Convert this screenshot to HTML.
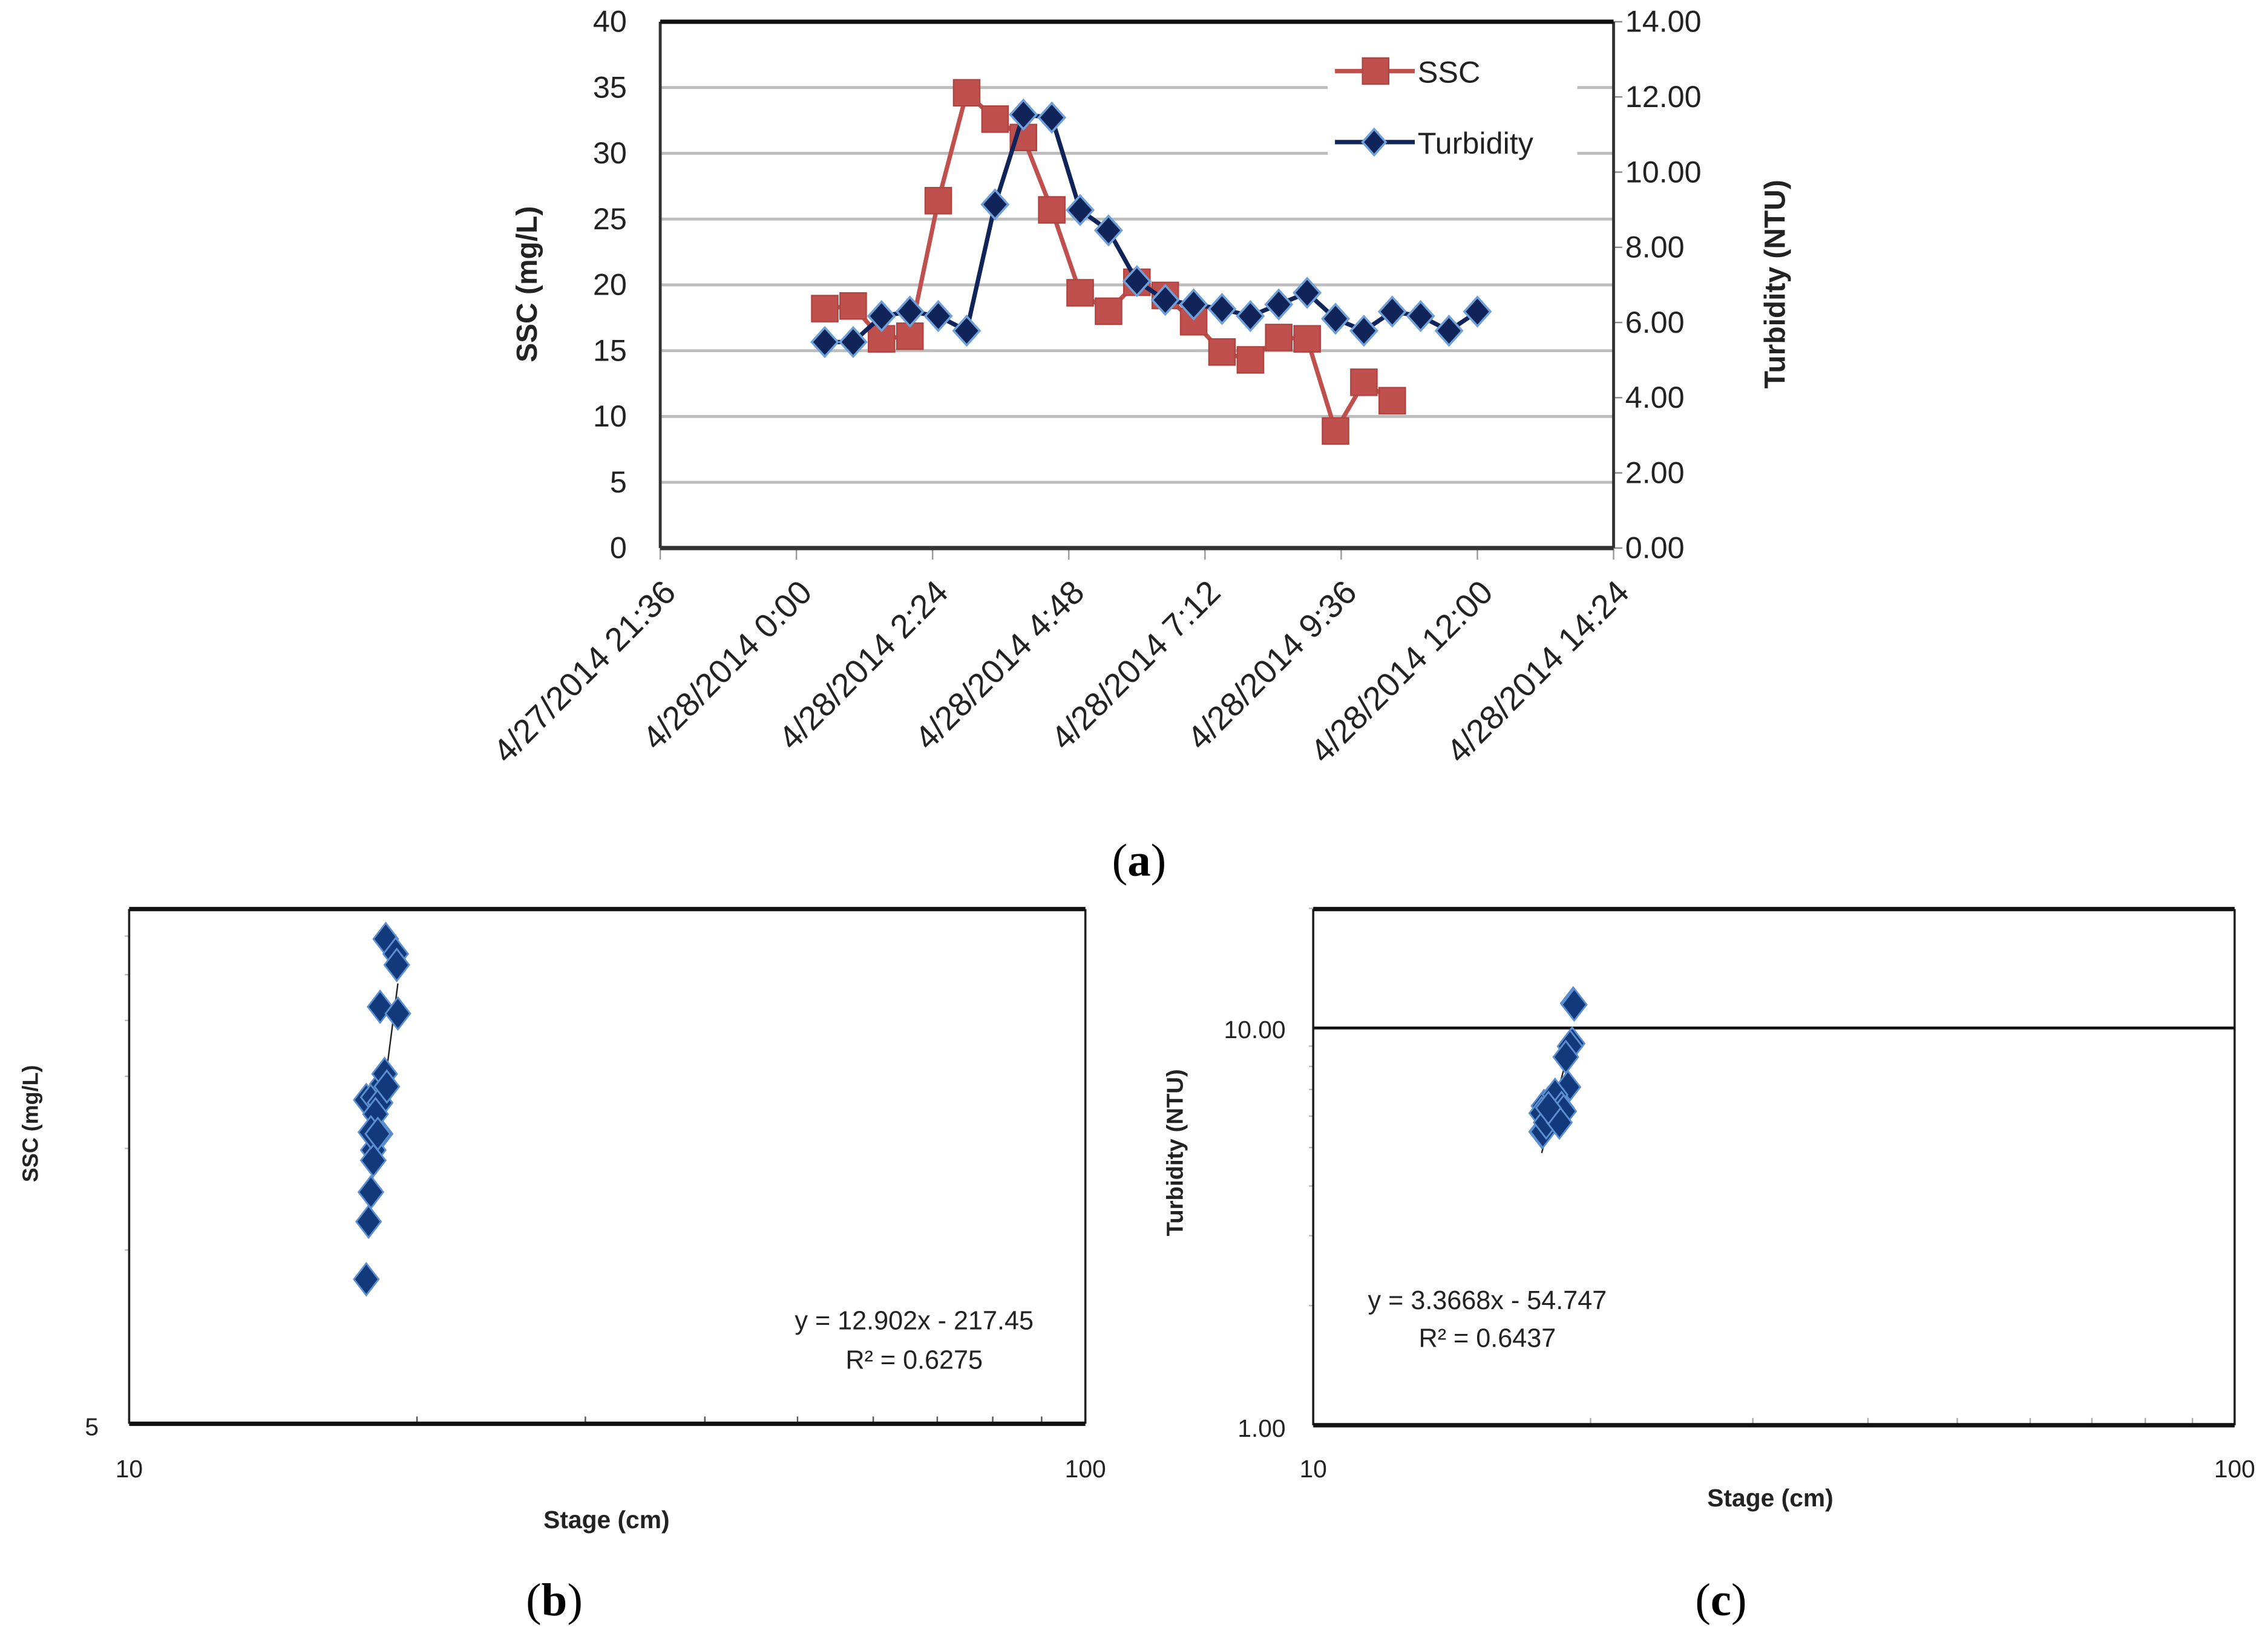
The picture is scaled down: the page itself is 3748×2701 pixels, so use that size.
<!DOCTYPE html>
<html><head><meta charset="utf-8">
<style>
html,body{margin:0;padding:0;background:#fff;}
svg{display:block;}
text{font-family:"Liberation Sans",sans-serif;fill:#222;}
.serif{font-family:"Liberation Serif",serif;fill:#000;}
</style></head>
<body>
<svg id="fig" width="3748" height="2701" viewBox="0 0 1563 1127" preserveAspectRatio="none" xmlns="http://www.w3.org/2000/svg">
<rect width="1563" height="1127" fill="#fff"/>
<g id="ga"></g>
<g id="gb"></g>
<g id="gc"></g>
<text class="serif" x="785" y="604" font-size="32" text-anchor="middle">(<tspan font-weight="bold">a</tspan>)</text>
<text class="serif" x="382" y="1114" font-size="32" text-anchor="middle">(<tspan font-weight="bold">b</tspan>)</text>
<text class="serif" x="1186" y="1114" font-size="32" text-anchor="middle">(<tspan font-weight="bold">c</tspan>)</text>
</svg>
<script>
// ---- data ----
const timeMin = [30,60,90,120,150,180,210,240,270,300,330,360,390,420,450,480,510,540,570,600,630,660,690,720]; // minutes after 4/28 0:00
const sscValues = [18.2,18.4,15.9,16.1,26.4,34.6,32.6,31.2,25.7,19.4,18.0,20.2,19.2,17.2,14.9,14.3,16.0,15.9,8.9,12.6,11.2];
const turbValues = [5.48,5.48,6.17,6.29,6.17,5.78,9.14,11.53,11.45,8.99,8.45,7.1,6.6,6.48,6.36,6.17,6.48,6.79,6.1,5.78,6.29,6.17,5.78,6.29];
const xTickLabels = ["4/27/2014 21:36","4/28/2014 0:00","4/28/2014 2:24","4/28/2014 4:48","4/28/2014 7:12","4/28/2014 9:36","4/28/2014 12:00","4/28/2014 14:24"];
const sscTicks = [0,5,10,15,20,25,30,35,40];
const turbTicks = [0,2,4,6,8,10,12,14];
const stageB = [17.7,18.0,18.3,18.1,18.3,18.55,19.0,19.05,19.1,18.4,18.3,18.5,18.6,18.1,18.0,18.0,17.9,18.2,17.7,17.9,17.8];
const stageC = [17.7,17.75,17.8,18.0,17.9,18.5,19.1,19.15,19.2,19.0,18.8,18.9,18.4,18.0,17.8,17.9,18.2,18.3,17.7,17.9,18.6,18.7,18.5,18.0];
const regB = [12.902,-217.45];
const regC = [3.3668,-54.747];

const NS="http://www.w3.org/2000/svg";
function mk(parent,tag,attrs,txt){const e=document.createElementNS(NS,tag);for(const k in attrs)e.setAttribute(k,attrs[k]);if(txt!==undefined)e.textContent=txt;parent.appendChild(e);return e;}

// ---- chart a ----
const ga=document.getElementById('ga');
const aL=455,aR=1112,aT=15,aB=378;
const xA=m=>aL+(m+144)/1008*(aR-aL);
const ySSC=v=>aB-v/40*(aB-aT);
const yTurb=v=>aB-v/14*(aB-aT);
sscTicks.forEach(t=>{
  if(t>0&&t<40){const g=mk(ga,'line',{x1:aL,x2:aR,y1:ySSC(t),y2:ySSC(t),stroke:'#bdbdbd','stroke-width':2});
  
  }
  const tx=mk(ga,'text',{x:432,y:ySSC(t)+7,'font-size':21,'text-anchor':'end'},String(t));
  
  
});
turbTicks.forEach(t=>{
  mk(ga,'line',{x1:aR,x2:aR+6,y1:yTurb(t),y2:yTurb(t),stroke:'#888','stroke-width':1});
  const tx=mk(ga,'text',{x:1120,y:yTurb(t)+7,'font-size':21},t.toFixed(2));
  
  
});
xTickLabels.forEach((l,i)=>{
  const x=xA(i*144-144);
  mk(ga,'line',{x1:x,x2:x,y1:aB,y2:aB+8,stroke:'#999','stroke-width':1});
  const ax=x+12, ay=aB+32;
  const tx=mk(ga,'text',{x:ax,y:ay,'font-size':23,'text-anchor':'end',transform:`rotate(-45 ${ax} ${ay})`},l);
  
  
});
mk(ga,'line',{x1:aL,x2:aL,y1:aT,y2:aB,stroke:'#333','stroke-width':2});
mk(ga,'line',{x1:aR,x2:aR,y1:aT,y2:aB,stroke:'#333','stroke-width':2});
mk(ga,'line',{x1:aL,x2:aR,y1:aT,y2:aT,stroke:'#111','stroke-width':3});
mk(ga,'line',{x1:aL,x2:aR,y1:aB,y2:aB,stroke:'#333','stroke-width':3});
let t1=mk(ga,'text',{x:370,y:196,'font-size':20,'font-weight':'bold','text-anchor':'middle',transform:'rotate(-90 370 196)'},'SSC (mg/L)');


let t2=mk(ga,'text',{x:1230,y:196,'font-size':20,'font-weight':'bold','text-anchor':'middle',transform:'rotate(-90 1230 196)'},'Turbidity (NTU)');


// legend
mk(ga,'rect',{x:915,y:28,width:172,height:84,fill:'#fff'});
mk(ga,'line',{x1:920,x2:975,y1:49,y2:49,stroke:'#c0504d','stroke-width':3});
mk(ga,'rect',{x:939,y:40,width:18,height:18,fill:'#c0504d',stroke:'#b04440','stroke-width':1});
let l1=mk(ga,'text',{x:977,y:57,'font-size':21},'SSC');


mk(ga,'line',{x1:920,x2:975,y1:98,y2:98,stroke:'#10245a','stroke-width':3});
mk(ga,'path',{d:'M947,89 L955,98 L947,107 L939,98 Z',fill:'#10245a',stroke:'#6fa0d8','stroke-width':1.5});
let l2=mk(ga,'text',{x:977,y:106,'font-size':21},'Turbidity');


// SSC series
let pts=sscValues.map((v,i)=>xA(timeMin[i])+','+ySSC(v)).join(' ');
const sl=mk(ga,'polyline',{points:pts,fill:'none',stroke:'#c0504d','stroke-width':3});


sscValues.forEach((v,i)=>{
  const r=mk(ga,'rect',{x:xA(timeMin[i])-9,y:ySSC(v)-9,width:18,height:18,fill:'#c0504d',stroke:'#b04440','stroke-width':1});
  
  
});
pts=turbValues.map((v,i)=>xA(timeMin[i])+','+yTurb(v)).join(' ');
const tl=mk(ga,'polyline',{points:pts,fill:'none',stroke:'#10245a','stroke-width':3});


turbValues.forEach((v,i)=>{
  const x=xA(timeMin[i]),y=yTurb(v);
  const d=mk(ga,'path',{d:`M${x},${y-10} L${x+9},${y} L${x},${y+10} L${x-9},${y} Z`,fill:'#10245a',stroke:'#6fa0d8','stroke-width':1.5});
  
  
});

// ---- scatter helper ----
function diamond(g,x,y,name){
  const d=mk(g,'path',{d:`M${x},${y-11} L${x+8.5},${y} L${x},${y+11} L${x-8.5},${y} Z`,fill:'#123a7a',stroke:'#5c8fd0','stroke-width':1.2});
  
  
}
// ---- chart b ----
const gb=document.getElementById('gb');
const bL=89,bR=748,bT=627,bB=982;
const xB=s=>bL+Math.log10(s/10)*(bR-bL);
const yB=v=>bB-Math.log10(v/5)*398;
[10,15,20,25,30,35].forEach(t=>mk(gb,'line',{x1:bL-3,x2:bL,y1:yB(t),y2:yB(t),stroke:'#bbb','stroke-width':1}));
[20,30,40,50,60,70,80,90].forEach(t=>mk(gb,'line',{x1:xB(t),x2:xB(t),y1:bB-5,y2:bB,stroke:'#555','stroke-width':1}));
mk(gb,'line',{x1:bL,x2:bL,y1:bT,y2:bB,stroke:'#222','stroke-width':1.5});
mk(gb,'line',{x1:bR,x2:bR,y1:bT,y2:bB,stroke:'#222','stroke-width':1.5});
mk(gb,'line',{x1:bL,x2:bR,y1:bT,y2:bT,stroke:'#111','stroke-width':3});
mk(gb,'line',{x1:bL,x2:bR,y1:bB,y2:bB,stroke:'#111','stroke-width':3});
mk(gb,'text',{x:68,y:990,'font-size':17,'text-anchor':'end'},'5');
mk(gb,'text',{x:89,y:1019,'font-size':17,'text-anchor':'middle'},'10');
mk(gb,'text',{x:748,y:1019,'font-size':17,'text-anchor':'middle'},'100');
let bx=mk(gb,'text',{x:418,y:1054,'font-size':17,'font-weight':'bold','text-anchor':'middle'},'Stage (cm)');


let by=mk(gb,'text',{x:26,y:775,'font-size':15,'font-weight':'bold','text-anchor':'middle',transform:'rotate(-90 26 775)'},'SSC (mg/L)');


let rl=mk(gb,'line',{x1:xB(17.7),y1:yB(regB[0]*17.7+regB[1]),x2:xB(19.1),y2:yB(regB[0]*19.1+regB[1]),stroke:'#222','stroke-width':1});


stageB.forEach((s,i)=>diamond(gb,xB(s),yB(sscValues[i]),'ssc-stage-point'));
mk(gb,'text',{x:630,y:917,'font-size':18,'text-anchor':'middle'},'y = 12.902x - 217.45');
mk(gb,'text',{x:630,y:944,'font-size':18,'text-anchor':'middle'},'R² = 0.6275');
// ---- chart c ----
const gc=document.getElementById('gc');
const cL=905,cR=1540,cT=627,cB=983;
const xC=s=>cL+Math.log10(s/10)*(cR-cL);
const yC=v=>cB-Math.log10(v)*274;
[2,3,4,5,6,7,8,9,20].forEach(t=>mk(gc,'line',{x1:cL-3,x2:cL,y1:yC(t),y2:yC(t),stroke:'#bbb','stroke-width':1}));
[20,30,40,50,60,70,80,90].forEach(t=>mk(gc,'line',{x1:xC(t),x2:xC(t),y1:cB-5,y2:cB,stroke:'#aaa','stroke-width':1}));
mk(gc,'line',{x1:cL,x2:cL,y1:cT,y2:cB,stroke:'#222','stroke-width':1.5});
mk(gc,'line',{x1:cR,x2:cR,y1:cT,y2:cB,stroke:'#222','stroke-width':1.5});
mk(gc,'line',{x1:cL,x2:cR,y1:cT,y2:cT,stroke:'#111','stroke-width':3});
mk(gc,'line',{x1:cL,x2:cR,y1:cB,y2:cB,stroke:'#111','stroke-width':3});
mk(gc,'line',{x1:cL,x2:cR,y1:yC(10),y2:yC(10),stroke:'#111','stroke-width':2});
mk(gc,'text',{x:886,y:716,'font-size':17,'text-anchor':'end'},'10.00');
mk(gc,'text',{x:886,y:991,'font-size':17,'text-anchor':'end'},'1.00');
mk(gc,'text',{x:905,y:1019,'font-size':17,'text-anchor':'middle'},'10');
mk(gc,'text',{x:1540,y:1019,'font-size':17,'text-anchor':'middle'},'100');
let cx=mk(gc,'text',{x:1220,y:1039,'font-size':17,'font-weight':'bold','text-anchor':'middle'},'Stage (cm)');


let cy=mk(gc,'text',{x:815,y:795,'font-size':16,'font-weight':'bold','text-anchor':'middle',transform:'rotate(-90 815 795)'},'Turbidity (NTU)');


let rc=mk(gc,'line',{x1:xC(17.7),y1:yC(regC[0]*17.7+regC[1]),x2:xC(19.2),y2:yC(regC[0]*19.2+regC[1]),stroke:'#222','stroke-width':1});


stageC.forEach((s,i)=>diamond(gc,xC(s),yC(turbValues[i]),'turbidity-stage-point'));
mk(gc,'text',{x:1025,y:903,'font-size':18,'text-anchor':'middle'},'y = 3.3668x - 54.747');
mk(gc,'text',{x:1025,y:929,'font-size':18,'text-anchor':'middle'},'R² = 0.6437');
</script>
</body></html>
